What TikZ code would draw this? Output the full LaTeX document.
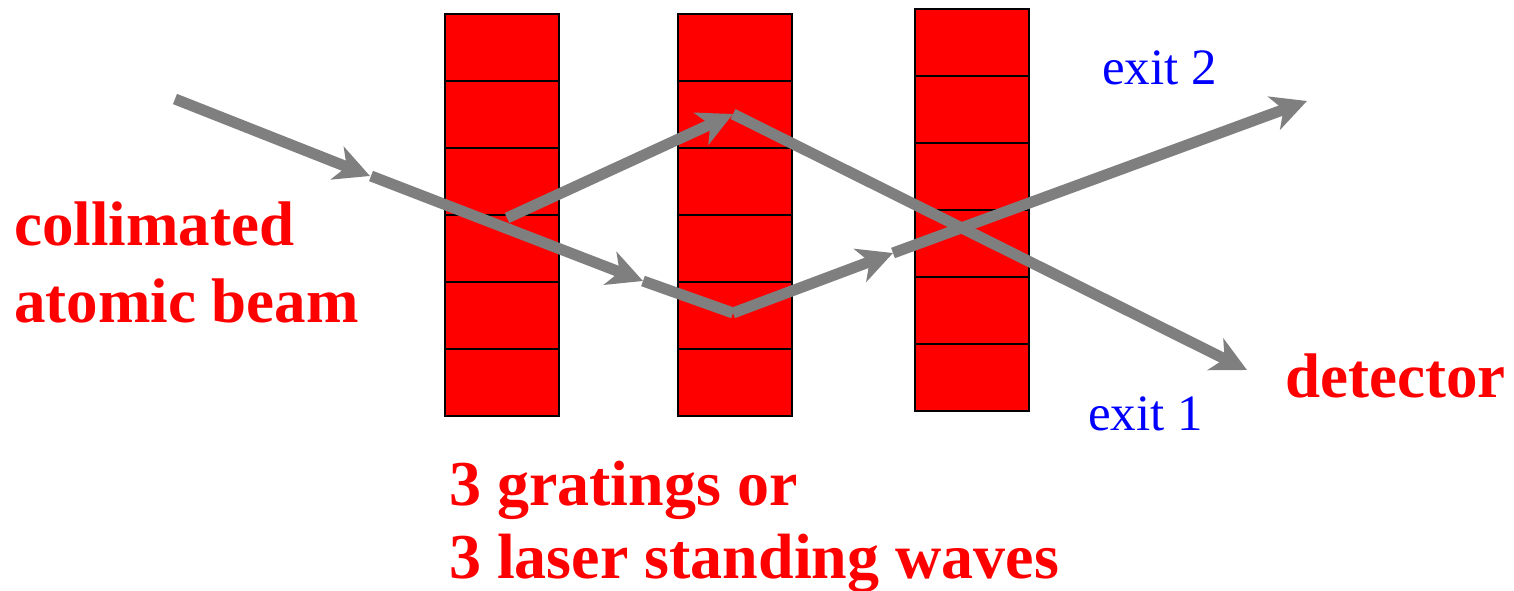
\documentclass[tikz,border=0pt]{standalone}
\usepackage{fontspec}
\setmainfont{Liberation Serif}
\usetikzlibrary{arrows.meta}
\definecolor{beamgray}{RGB}{127,127,127}
\definecolor{gratred}{RGB}{255,0,0}
\definecolor{exitblue}{RGB}{0,0,255}
\tikzset{
  beam/.style={draw=beamgray, line width=11pt, line cap=butt},
  beamarrow/.style={beam, -{Stealth[length=35pt,width=35pt,inset=10pt]}},
  cell/.style={fill=gratred, draw=black, line width=2pt},
  bigred/.style={text=gratred, inner sep=0pt, anchor=base west, font=\fontsize{63}{76}\selectfont\bfseries},
  gratlabel/.style={bigred, font=\fontsize{64}{76}\selectfont\bfseries},
  exitlabel/.style={text=exitblue, inner sep=0pt, anchor=base west, font=\fontsize{51}{60}\selectfont}
}
\begin{document}
\begin{tikzpicture}[x=1pt,y=-1pt]
\useasboundingbox (0,0) rectangle (1514,591);
% gratings
\foreach \x/\y in {445/14, 678/14, 915/9}{
  \foreach \i in {0,...,5}{
    \draw[cell] (\x,\y+\i*67) rectangle ++(114,67);
  }
}
% beam coordinates
\coordinate (a0) at (175,99);
\coordinate (a1) at (370,176);
\coordinate (b0) at (371,176);
\coordinate (b1) at (643,281);
\coordinate (c1) at (733,313);
\coordinate (d1) at (893,253);
\coordinate (e1) at (1307,101);
\coordinate (f0) at (507,218);
\coordinate (f1) at (733,114);
\coordinate (g1) at (1247,370);
% beams
\draw[beamarrow] (a0) -- (a1);
\draw[beamarrow] (b0) -- (b1);
\draw[beam] (b1) -- (c1);
\draw[beamarrow] (c1) -- (d1);
\draw[beamarrow] (d1) -- (e1);
\draw[beamarrow] (f0) -- (f1);
\draw[beamarrow] (f1) -- (g1);
% labels
\node[bigred] (src1) at (14,245) {collimated};
\node[bigred] (src2) at (14,322) {atomic beam};
\node[bigred] (det) at (1285,397) {detector};
\node[gratlabel] (grat1) at (449,505) {3 gratings or};
\node[gratlabel] (grat2) at (449,578) {3 laser standing waves};
\node[exitlabel] (ex2) at (1102,85) {exit 2};
\node[exitlabel] (ex1) at (1088,430) {exit 1};
\end{tikzpicture}
\end{document}
